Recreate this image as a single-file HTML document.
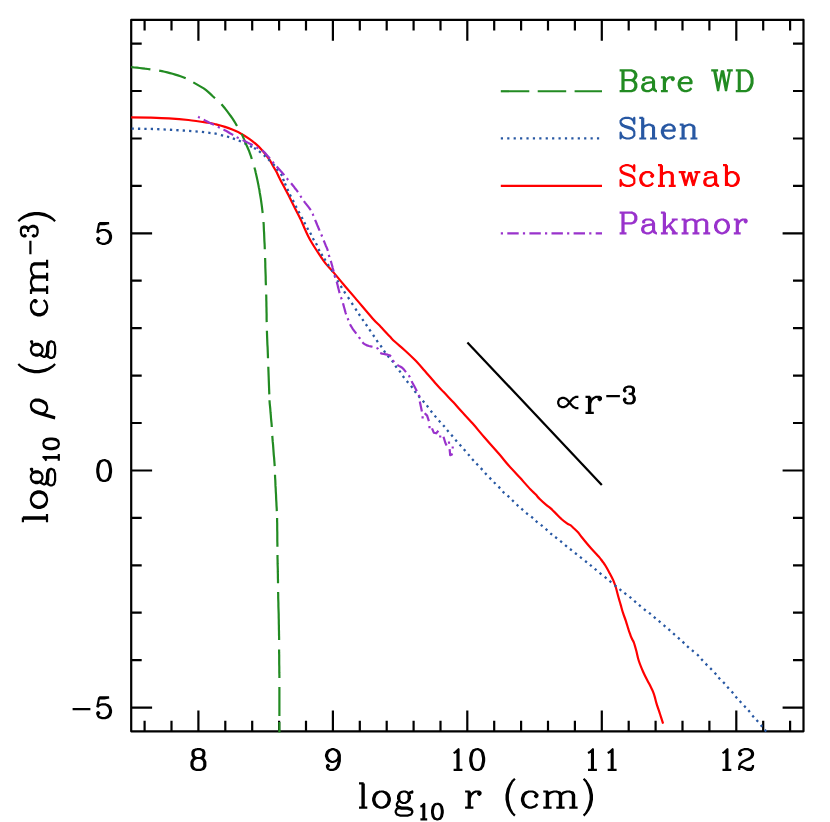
<!DOCTYPE html><html><head><meta charset="utf-8"><title>chart</title><style>html,body{margin:0;padding:0;background:#fff}svg{display:block}</style></head><body><svg width="830" height="822" viewBox="0 0 830 822"><rect width="830" height="822" fill="#fff"/><path d="M131.2 19.9H803.5V731.3H131.2Z" fill="none" stroke="#000" stroke-width="2.2" stroke-linejoin="round" stroke-linecap="round"/><path d="M144.6 731.3v-10.5M144.6 19.9v10.5M171.5 731.3v-10.5M171.5 19.9v10.5M198.4 731.3v-20.9M198.4 19.9v20.9M225.3 731.3v-10.5M225.3 19.9v10.5M252.2 731.3v-10.5M252.2 19.9v10.5M279.1 731.3v-10.5M279.1 19.9v10.5M306 731.3v-10.5M306 19.9v10.5M332.9 731.3v-20.9M332.9 19.9v20.9M359.8 731.3v-10.5M359.8 19.9v10.5M386.7 731.3v-10.5M386.7 19.9v10.5M413.6 731.3v-10.5M413.6 19.9v10.5M440.5 731.3v-10.5M440.5 19.9v10.5M467.3 731.3v-20.9M467.3 19.9v20.9M494.2 731.3v-10.5M494.2 19.9v10.5M521.1 731.3v-10.5M521.1 19.9v10.5M548 731.3v-10.5M548 19.9v10.5M574.9 731.3v-10.5M574.9 19.9v10.5M601.8 731.3v-20.9M601.8 19.9v20.9M628.7 731.3v-10.5M628.7 19.9v10.5M655.6 731.3v-10.5M655.6 19.9v10.5M682.5 731.3v-10.5M682.5 19.9v10.5M709.4 731.3v-10.5M709.4 19.9v10.5M736.3 731.3v-20.9M736.3 19.9v20.9M763.2 731.3v-10.5M763.2 19.9v10.5M790.1 731.3v-10.5M790.1 19.9v10.5M131.2 707.6h20.9M803.5 707.6h-20.9M131.2 660.2h10.5M803.5 660.2h-10.5M131.2 612.7h10.5M803.5 612.7h-10.5M131.2 565.3h10.5M803.5 565.3h-10.5M131.2 517.9h10.5M803.5 517.9h-10.5M131.2 470.5h20.9M803.5 470.5h-20.9M131.2 423h10.5M803.5 423h-10.5M131.2 375.6h10.5M803.5 375.6h-10.5M131.2 328.2h10.5M803.5 328.2h-10.5M131.2 280.7h10.5M803.5 280.7h-10.5M131.2 233.3h20.9M803.5 233.3h-20.9M131.2 185.9h10.5M803.5 185.9h-10.5M131.2 138.5h10.5M803.5 138.5h-10.5M131.2 91h10.5M803.5 91h-10.5M131.2 43.6h10.5M803.5 43.6h-10.5" fill="none" stroke="#000" stroke-width="2.2" stroke-linecap="butt"/><clipPath id="cp"><rect x="131.2" y="19.9" width="672.3" height="712.5"/></clipPath><g clip-path="url(#cp)" fill="none" stroke-linejoin="round" stroke-width="2.2"><path d="M129 117.4C129.4 117.4 128.2 117.4 131.6 117.4C135 117.4 143.3 117.4 149.5 117.6C155.7 117.8 162.4 118 168.9 118.4C175.4 118.8 181.9 119.3 188.4 120C194.9 120.7 203.3 122 207.9 122.7C212.5 123.4 213.2 123.7 216 124.4C218.8 125.1 222.3 126 225 126.9C227.7 127.8 229.6 128.5 232.3 129.6C235 130.7 238.3 132.1 241.1 133.7C243.9 135.2 246.7 137.1 249.3 138.9C251.9 140.7 254.4 142.8 256.6 144.7C258.8 146.6 260.7 148.6 262.3 150.4C263.9 152.2 265.2 153.9 266.5 155.6C267.8 157.3 269.1 158.9 270.2 160.7C271.3 162.5 272.2 164.4 273.2 166.2C274.2 168 275.3 169.7 276.3 171.6C277.3 173.5 278.3 175.7 279.3 177.7C280.3 179.7 281.3 181.8 282.4 183.8C283.5 185.8 284.6 187.9 285.7 189.9C286.8 191.9 287.2 192.7 288.9 195.9C290.5 199.2 293.7 205.6 295.6 209.4C297.5 213.2 298.9 215.9 300.4 218.9C301.8 221.9 303 224.8 304.3 227.7C305.6 230.6 306.9 233.6 308.2 236.2C309.5 238.8 310.6 240.8 312.1 243.3C313.6 245.8 315.2 248.3 317 251C318.8 253.7 321.3 257.5 322.8 259.6C324.3 261.8 324.1 261.7 325.9 263.9C327.7 266.1 330.8 269.2 333.7 272.6C336.6 276 339.8 280.1 343.4 284.3C347 288.5 350.2 292.2 355.1 297.9C360 303.6 368.3 313.5 372.6 318.4C376.9 323.2 378.1 324 380.9 327C383.7 330 387.2 333.8 389.6 336.3C392 338.8 392.5 339.5 395 341.8C397.5 344.1 401.4 347.2 404.7 350.2C407.9 353.1 411.2 356.2 414.5 359.5C417.8 362.8 420.6 366.1 424.2 370.2C427.8 374.2 432.6 380.1 435.9 383.8C439.1 387.5 440.8 389 443.7 392.1C446.6 395.2 450.6 399.3 453.4 402.3C456.2 405.3 457.3 406.8 460.5 410.3C463.7 413.9 468.7 419.1 472.7 423.6C476.7 428.1 479.9 432.2 484.3 437.2C488.7 442.2 494.8 449.1 498.9 453.8C503 458.5 505.1 461.4 508.7 465.5C512.3 469.6 516.6 474.1 520.3 478.1C523.9 482.1 528 486.8 530.6 489.5C533.2 492.2 534.3 493 535.8 494.6C537.3 496.2 537.9 497.2 539.7 499C541.5 500.8 544.7 503.6 546.5 505.1C548.3 506.6 548.9 506.9 550.4 508.2C551.9 509.5 553.5 511.1 555.3 512.9C557.1 514.6 559.1 517 561.1 518.7C563.1 520.5 565.5 522.3 567 523.4C568.5 524.5 569.3 524.4 570.4 525.2C571.5 526 572.5 527 573.8 528.2C575.1 529.4 576.9 531 578.2 532.5C579.5 534 579.9 534.9 581.6 537C583.3 539.1 586.3 542.8 588.4 545.3C590.5 547.8 592.3 549.8 594.2 551.8C596.1 553.8 598.4 556.2 599.6 557.6C600.8 559 600.8 559.2 601.4 560C602 560.8 602.5 561.4 603.2 562.4C603.9 563.4 604.8 564.5 605.8 566.2C606.8 568 608.2 570.5 609.5 572.9C610.8 575.3 612.4 578.2 613.4 580.6C614.4 583 615 584.7 615.8 587.3C616.6 589.9 617.4 593.3 618.2 596.2C619 599.1 619.9 602.1 620.7 604.9C621.5 607.7 622.2 610.5 623.1 613.2C624 615.9 625.1 618.6 626 621.3C626.9 624 627.6 626.9 628.4 629.2C629.1 631.5 629.9 633.6 630.5 635.3C631.1 637 631.8 638.3 632.3 639.5C632.8 640.7 633.1 640.4 633.8 642.3C634.5 644.2 635.5 647.8 636.3 650.8C637.1 653.8 637.6 657 638.7 660.5C639.8 664 641.5 668 643 671.5C644.5 675 646.5 678.7 647.8 681.2C649.1 683.7 649.7 684.8 650.6 686.6C651.5 688.4 652.4 690.1 653.1 691.9C653.8 693.7 654.4 695.5 654.9 697.4C655.4 699.3 655.5 700.3 656.4 703.1C657.2 705.9 658.9 710.6 660 714C661.1 717.4 662.6 722 663.1 723.6" stroke="#ff0000"/><path d="M125.16 128.70L127.46 128.70M131.55 128.70L133.85 128.71M137.94 128.73L140.24 128.75M144.33 128.80L146.63 128.84M150.73 128.93L153.02 129.00M157.12 129.16L159.42 129.25M163.51 129.44L165.81 129.55M169.90 129.76L172.20 129.89M176.29 130.13L178.59 130.26M182.69 130.48L184.98 130.63M189.08 130.94L191.37 131.10M195.47 131.35L197.76 131.53M201.87 131.85L204.15 132.11M208.26 132.71L210.54 133.03M214.47 133.48L216.73 133.92M220.88 135.02L223.12 135.58M226.99 136.48L229.21 137.12M232.82 138.31L234.98 139.09M238.74 140.54L240.86 141.46M244.47 143.19L246.53 144.21M249.97 145.98L252.03 147.02M254.02 147.90L255.98 149.10M258.99 151.20L260.81 152.60M263.84 155.13L265.56 156.67M268.28 159.30L269.92 160.90M273.15 164.03L274.65 165.77M276.70 168.79L278.10 170.61M280.91 173.81L282.09 175.79M283.07 178.93L283.93 181.07M284.94 183.35L285.86 185.45M287.33 188.85L288.27 190.95M289.89 194.57L290.91 196.63M292.78 200.08L293.82 202.12M295.58 205.78L296.62 207.82M298.46 211.29L299.54 213.31M301.56 216.98L302.64 219.02M304.27 222.28L305.33 224.32M307.14 227.70L308.26 229.70M310.15 232.79L311.25 234.81M312.84 238.20L313.96 240.20M315.97 243.18L317.03 245.22M318.48 249.08L319.52 251.12M321.30 253.82L322.50 255.78M324.29 258.72L325.51 260.68M327.67 264.14L328.93 266.06M331.40 269.62L332.60 271.58M334.44 275.09L335.56 277.11M337.32 280.31L338.48 282.29M340.70 285.82L341.90 287.78M344.08 291.33L345.32 293.27M347.97 297.24L349.23 299.16M351.68 302.83L352.92 304.77M355.38 308.73L356.62 310.67M358.76 313.84L360.04 315.76M362.25 319.05L363.55 320.95M365.85 324.25L367.15 326.15M369.35 329.45L370.65 331.35M373.06 334.85L374.34 336.75M376.54 340.16L377.86 342.04M380.44 345.36L381.76 347.24M383.94 350.66L385.26 352.54M387.67 355.81L389.13 357.59M391.90 360.48L393.30 362.32M395.33 365.77L396.67 367.63M399.22 370.57L400.58 372.43M402.82 375.97L404.18 377.83M406.77 381.01L408.23 382.79M410.99 385.89L412.41 387.71M414.61 390.98L415.99 392.82M418.46 395.92L419.94 397.68M422.74 400.73L424.26 402.47M426.79 405.40L428.21 407.20M430.70 410.69L432.10 412.51M434.66 415.62L436.14 417.38M438.83 420.44L440.37 422.16M443.15 425.13L444.65 426.87M447.06 429.92L448.54 431.68M451.26 434.82L452.74 436.58M455.35 439.73L456.85 441.47M459.64 444.54L461.16 446.26M463.84 449.33L465.36 451.07M468.05 454.13L469.55 455.87M472.13 458.94L473.67 460.66M476.41 463.56L477.99 465.24M480.82 468.15L482.38 469.85M485.02 472.95L486.58 474.65M489.50 477.67L491.10 479.33M493.89 482.19L495.51 483.81M498.51 486.66L500.09 488.34M502.67 491.50L504.33 493.10M507.55 495.53L509.25 497.07M512.08 499.99L513.72 501.61M516.66 504.52L518.34 506.08M521.33 508.64L523.07 510.16M526.11 512.88L527.89 514.32M531.22 516.66L532.98 518.14M535.72 520.86L537.48 522.34M540.81 524.77L542.59 526.23M545.64 528.93L547.36 530.47M550.32 533.26L552.08 534.74M555.19 537.00L557.01 538.40M560.21 540.87L561.99 542.33M565.11 545.07L566.89 546.53M570.00 548.98L571.80 550.42M575.00 552.99L576.80 554.41M580.00 556.89L581.80 558.31M585.10 560.98L586.90 562.42M589.91 564.77L591.69 566.23M594.72 568.76L596.48 570.24M599.61 572.87L601.39 574.33M604.71 576.98L606.49 578.42M609.51 580.87L611.29 582.33M614.62 585.07L616.38 586.53M619.50 589.18L621.30 590.62M624.38 592.90L626.22 594.30M629.51 596.77L631.29 598.23M634.23 600.94L635.97 602.46M638.92 604.96L640.68 606.44M643.89 609.10L645.71 610.50M649.00 612.79L650.80 614.21M653.82 616.86L655.58 618.34M658.72 620.86L660.48 622.34M663.63 625.15L665.37 626.65M668.43 629.15L670.17 630.65M673.14 633.33L674.86 634.87M677.94 637.63L679.66 639.17M682.55 641.72L684.25 643.28M687.04 646.03L688.76 647.57M691.92 650.16L693.68 651.64M697.07 654.40L698.73 656.00M701.22 658.95L702.78 660.65M705.59 663.68L707.21 665.32M710.20 668.08L711.80 669.72M714.64 672.83L716.16 674.57M718.52 677.56L720.08 679.24M723.11 681.96L724.69 683.64M727.24 686.84L728.76 688.56M731.65 691.53L733.15 693.27M735.55 696.42L737.05 698.18M739.72 701.06L741.28 702.74M744.12 705.76L745.68 707.44M748.36 710.32L749.84 712.08M752.35 715.53L753.85 717.27M756.53 719.94L758.07 721.66M760.76 724.92L762.24 726.68M764.76 729.72L766.24 731.48" stroke="#2858a3" stroke-width="2.3"/><path d="M129 67L131.7 67.2 134.4 67.5 137 67.7 139.7 68 142.4 68.3 145.1 68.7 147.7 69 150.4 69.4M159.2 70.6L161.9 71.1 164.6 71.7 167.3 72.4 170 73.1 172.6 73.8 175.3 74.6 177.9 75.4 180.5 76.3 183.2 77.2 185.7 78.3M193.3 82.4L195.9 83.9 198.5 85.4 201.1 86.9 203.7 88.4 206.1 90.2 208.4 92.1 210.6 94.1 212.8 96.2 215 98.2M221.5 104.2L223.4 106.5 225.3 108.8 227.1 111.2 228.9 113.6 230.7 116 232.4 118.4 234 120.9 235.6 123.5 237 126.1M241.7 133.9L242.8 136.4 243.9 138.9 244.9 141.4 245.9 143.9 247 146.3 248.1 148.8 249.2 151.3 250.1 153.9 251 156.4 251.8 159M254.4 167.5L255.2 170.3 255.8 173.1 256.5 176 257.1 178.8 257.7 181.6 258.3 184.4 258.8 187.3 259.4 190.1 259.8 193 260.3 195.8 260.8 198.7 261.2 201.5 261.6 204.4 262 207.3 262.3 210.1 262.7 213M263.5 222L263.7 224.7 263.8 227.4 263.9 230.2 264.1 232.9 264.2 235.6 264.3 238.3 264.4 241 264.6 243.8 264.7 246.5 264.8 249.2M265.1 258L265.2 260.7 265.3 263.5 265.3 266.2 265.4 268.9 265.5 271.7 265.6 274.4 265.7 277.1 265.7 279.8 265.8 282.6 265.9 285.3M266.2 294.5L266.3 297.3 266.3 300 266.4 302.8 266.4 305.5 266.5 308.3 266.5 311.1 266.6 313.8 266.6 316.6 266.6 319.3 266.7 322.1M266.9 330.7L267 333.5 267.1 336.2 267.2 339 267.3 341.7 267.4 344.5 267.6 347.2 267.7 350 267.8 352.7 267.9 355.4 268 358.2M268.3 366.8L268.4 369.6 268.5 372.3 268.6 375.1 268.7 377.8 268.8 380.6 268.9 383.4 269 386.1 269.1 388.9 269.2 391.6 269.3 394.4M269.5 400.3L269.7 403.3 270 406.2 270.3 409.2 270.5 412.2 270.8 415.1 271 418.1 271.3 421.1 271.6 424 271.8 427M272.3 435.9L272.5 438.6 272.7 441.4 273 444.1 273.2 446.9 273.4 449.6 273.6 452.4 273.8 455.1 274.1 457.9 274.3 460.6 274.5 463.4 274.7 466.1M275 474.7L275.1 477.5 275.3 480.3 275.4 483.1 275.5 485.9 275.7 488.7 275.8 491.5 276 494.3 276.1 497.1 276.2 499.9 276.4 502.7 276.5 505.5 276.7 508.3 276.8 511.1M277.1 518.1L277.1 521 277.2 523.8 277.2 526.7 277.2 529.5 277.3 532.4 277.3 535.3 277.3 538.1 277.3 541 277.4 543.8 277.4 546.7M277.5 554.9L277.5 557.7 277.6 560.6 277.6 563.4 277.7 566.2 277.8 569 277.8 571.9 277.9 574.7 277.9 577.5 278 580.4 278 583.2M278.1 592L278.2 594.8 278.2 597.7 278.3 600.5 278.4 603.3 278.4 606.1 278.5 609 278.6 611.8 278.7 614.6 278.7 617.5 278.8 620.3 278.8 623.1 278.9 626 278.9 628.8 279 631.6 279 634.4 279.1 637.3 279.1 640.1M279.1 649.5L279.1 652.4 279.2 655.2 279.2 658.1 279.2 660.9 279.2 663.8 279.3 666.7 279.3 669.5 279.3 672.4 279.4 675.2 279.4 678.1M279.4 686.9L279.4 689.8 279.4 692.7 279.4 695.6 279.4 698.5 279.4 701.5 279.4 704.4 279.4 707.3 279.4 710.2 279.4 713.1 279.4 716M279.4 721.9L279.4 724.7 279.4 727.5 279.4 730.2 279.4 733" stroke="#228b22"/><path d="M198.1 116.8L199 117.3 199.8 117.7M203.7 119.7L205.4 120.6 207.1 121.5 208.8 122.4 210.5 123.2 212.3 124 214 124.9M217.8 126.7L218.5 127 219.1 127.4 219.8 127.7M223.5 129.6L225.2 130.4 226.8 131.3 228.4 132.2 230 133.2 231.6 134.1 233.2 135M236.7 137.1L237.4 137.5 238 137.8 238.7 138.1M242.6 140L244.3 140.9 246 141.7 247.7 142.6 249.4 143.5 251.1 144.3 252.7 145.2M256.4 147.3L257.1 147.6 257.7 148 258.4 148.2M262.2 150.2L263.6 151.5 264.9 152.8 266.1 154.2 267.4 155.7 268.6 157.1 269.9 158.5M272.5 161.7L273 162.3 273.4 162.9 273.9 163.4M276.7 166.6L278 168 279.3 169.4 280.5 170.8 281.8 172.2 283 173.6 284.3 175.1M286.8 178.3L287.3 178.9 287.7 179.5 288.2 180M291.1 183.2L292.3 184.7 293.5 186.2 294.6 187.7 295.8 189.2 296.9 190.7 298 192.2M300.3 195.8L300.7 196.4 301.1 197 301.5 197.6M303.9 201.1L305 202.6 306.2 204.1 307.4 205.6 308.6 207.1 309.7 208.6 310.8 210.1M312.7 213.8L313 214.5 313.2 215.1 313.5 215.8M315.1 219.9L315.9 221.7 316.6 223.5 317.3 225.2 318.1 227 318.8 228.8 319.6 230.6M321.3 234.5L321.6 235.2 321.8 235.8 322.1 236.5M323.7 240.5L324.4 242.2 325.1 243.9 325.8 245.7 326.6 247.4 327.3 249.1 327.9 250.9M328.8 254.9L329 255.6 329.2 256.4 329.4 257M330.8 260.9L331.3 262.7 331.8 264.5 332.3 266.2 332.7 268 333.2 269.8 333.7 271.6M334.7 275.4L334.9 276.1 335.1 276.9 335.3 277.6M336.7 281.8L337.2 283.6 337.7 285.5 338.1 287.4 338.6 289.3 339.1 291.2 339.6 293.1M340.9 297.2L341.2 297.9 341.4 298.5 341.7 299.2M343 303.3L343.5 305.1 344 307 344.5 308.8 345 310.6 345.5 312.5 346.1 314.3M347.6 318.2L347.9 318.9 348.1 319.5 348.4 320.2M350 324.2L350.9 325.9 351.9 327.5 352.9 329.1 354 330.6 355.2 332.2 356.3 333.7M358.9 337L359.3 337.6 359.7 338.2 360.1 338.8M362.4 342.3L363.8 343.6 365.4 344.6 367.1 345.4 368.9 346 370.7 346.4 372.5 346.8M376.5 347.9L377.2 348.2 377.8 348.6 378.2 349.2M380.2 353L382 353.6 383.9 353.9 385.8 354.3 387.7 354.7 389.5 355.2 391 356.4M392.9 360.2L393.3 360.8 393.7 361.4 394.2 362M397.3 364.9L398.9 365.9 400.6 366.8 402.2 367.8 403.6 369.1 404.8 370.6 406 372.1M408.7 375.3L409.1 375.9 409.5 376.5 409.8 377.2M411.6 381.1L412.4 382.8 413.3 384.4 414.2 386.1 415.1 387.8 416 389.5 416.8 391.2M418.7 394.9L419 395.6 419.4 396.2 419.7 396.9M419.8 401.6L421.9 411.4M424.7 413.2L427.1 415.6 428.9 421.1M432 428.4L433.8 432.7 436.2 433.3 438.4 430.8M443.5 436.7L445.4 443 446.6 445.4M449.6 449.1L450.2 455.2 452.7 453.9M421.5 417.4h2.2M428.4 427.2h2.2M439.1 436.5h2.2M447.9 442.7h2.2M451.6 447.5h2.2" stroke="#9932cc"/><path d="M467.4 342.4L601.8 485" stroke="#000"/></g><path d="M196.5 749.2L193.5 750.2 192.5 752.1 192.5 755.1 193.5 757.1 196.5 758 200.4 758 203.4 757.1 204.3 755.1 204.3 752.1 203.4 750.2 200.4 749.2 196.5 749.2M196.5 749.2L194.5 750.2 193.5 752.1 193.5 755.1 194.5 757.1 196.5 758M200.4 758L202.4 757.1 203.4 755.1 203.4 752.1 202.4 750.2 200.4 749.2M196.5 758L193.5 759 192.5 760 191.5 762 191.5 765.9 192.5 767.9 193.5 768.9 196.5 769.9 200.4 769.9 203.4 768.9 204.3 767.9 205.3 765.9 205.3 762 204.3 760 203.4 759 200.4 758M196.5 758L194.5 759 193.5 760 192.5 762 192.5 765.9 193.5 767.9 194.5 768.9 196.5 769.9M200.4 769.9L202.4 768.9 203.4 767.9 204.3 765.9 204.3 762 203.4 760 202.4 759 200.4 758" fill="none" stroke="#000" stroke-width="2.2" stroke-linecap="butt" stroke-linejoin="round"/><path d="M338.8 756.1L337.8 759 335.8 761 332.9 762 331.9 762 328.9 761 327 759 326 756.1 326 755.1 327 752.1 328.9 750.2 331.9 749.2 333.9 749.2 336.8 750.2 338.8 752.1 339.8 755.1 339.8 761 338.8 764.9 337.8 766.9 335.8 768.9 332.9 769.9 329.9 769.9 328 768.9 327 766.9 327 765.9 328 764.9 328.9 765.9 328 766.9M331.9 762L329.9 761 328 759 327 756.1 327 755.1 328 752.1 329.9 750.2 331.9 749.2M333.9 749.2L335.8 750.2 337.8 752.1 338.8 755.1 338.8 761 337.8 764.9 336.8 766.9 334.9 768.9 332.9 769.9" fill="none" stroke="#000" stroke-width="2.2" stroke-linecap="butt" stroke-linejoin="round"/><path d="M453.6 753.1L455.5 752.1 458.5 749.2 458.5 769.9M457.5 750.2L457.5 769.9M453.6 769.9L462.4 769.9M476.2 749.2L473.3 750.2 471.3 753.1 470.3 758 470.3 761 471.3 765.9 473.3 768.9 476.2 769.9 478.2 769.9 481.1 768.9 483.1 765.9 484.1 761 484.1 758 483.1 753.1 481.1 750.2 478.2 749.2 476.2 749.2M476.2 749.2L474.2 750.2 473.3 751.1 472.3 753.1 471.3 758 471.3 761 472.3 765.9 473.3 767.9 474.2 768.9 476.2 769.9M478.2 769.9L480.2 768.9 481.1 767.9 482.1 765.9 483.1 761 483.1 758 482.1 753.1 481.1 751.1 480.2 750.2 478.2 749.2" fill="none" stroke="#000" stroke-width="2.2" stroke-linecap="butt" stroke-linejoin="round"/><path d="M588 753.1L590 752.1 592.9 749.2 592.9 769.9M592 750.2L592 769.9M588 769.9L596.9 769.9M607.7 753.1L609.7 752.1 612.6 749.2 612.6 769.9M611.7 750.2L611.7 769.9M607.7 769.9L616.6 769.9" fill="none" stroke="#000" stroke-width="2.2" stroke-linecap="butt" stroke-linejoin="round"/><path d="M722.5 753.1L724.4 752.1 727.4 749.2 727.4 769.9M726.4 750.2L726.4 769.9M722.5 769.9L731.3 769.9M740.2 753.1L741.2 754.1 740.2 755.1 739.2 754.1 739.2 753.1 740.2 751.1 741.2 750.2 744.1 749.2 748.1 749.2 751 750.2 752 751.1 753 753.1 753 755.1 752 757.1 749.1 759 744.1 761 742.2 762 740.2 764 739.2 766.9 739.2 769.9M748.1 749.2L750.1 750.2 751 751.1 752 753.1 752 755.1 751 757.1 748.1 759 744.1 761M739.2 767.9L740.2 766.9 742.2 766.9 747.1 768.9 750.1 768.9 752 767.9 753 766.9M742.2 766.9L747.1 769.9 751 769.9 752 768.9 753 766.9 753 764.9" fill="none" stroke="#000" stroke-width="2.2" stroke-linecap="butt" stroke-linejoin="round"/><path d="M99.2 223.1L97.3 232.9M97.3 232.9L99.2 231 102.2 230 105.1 230 108.1 231 110.1 232.9 111 235.9 111 237.9 110.1 240.8 108.1 242.8 105.1 243.8 102.2 243.8 99.2 242.8 98.2 241.8 97.3 239.8 97.3 238.9 98.2 237.9 99.2 238.9 98.2 239.8M105.1 230L107.1 231 109.1 232.9 110.1 235.9 110.1 237.9 109.1 240.8 107.1 242.8 105.1 243.8M99.2 223.1L109.1 223.1M99.2 224.1L104.2 224.1 109.1 223.1" fill="none" stroke="#000" stroke-width="2.2" stroke-linecap="butt" stroke-linejoin="round"/><path d="M103.2 460.2L100.2 461.2 98.2 464.2 97.3 469.1 97.3 472.1 98.2 477 100.2 479.9 103.2 480.9 105.1 480.9 108.1 479.9 110.1 477 111 472.1 111 469.1 110.1 464.2 108.1 461.2 105.1 460.2 103.2 460.2M103.2 460.2L101.2 461.2 100.2 462.2 99.2 464.2 98.2 469.1 98.2 472.1 99.2 477 100.2 478.9 101.2 479.9 103.2 480.9M105.1 480.9L107.1 479.9 108.1 478.9 109.1 477 110.1 472.1 110.1 469.1 109.1 464.2 108.1 462.2 107.1 461.2 105.1 460.2" fill="none" stroke="#000" stroke-width="2.2" stroke-linecap="butt" stroke-linejoin="round"/><path d="M72.6 709.2L90.4 709.2M99.2 697.4L97.3 707.2M97.3 707.2L99.2 705.2 102.2 704.3 105.1 704.3 108.1 705.2 110.1 707.2 111 710.2 111 712.1 110.1 715.1 108.1 717.1 105.1 718.1 102.2 718.1 99.2 717.1 98.2 716.1 97.3 714.1 97.3 713.1 98.2 712.1 99.2 713.1 98.2 714.1M105.1 704.3L107.1 705.2 109.1 707.2 110.1 710.2 110.1 712.1 109.1 715.1 107.1 717.1 105.1 718.1M99.2 697.4L109.1 697.4M99.2 698.4L104.2 698.4 109.1 697.4" fill="none" stroke="#000" stroke-width="2.2" stroke-linecap="butt" stroke-linejoin="round"/><path d="M362.5 783.4L362.5 807.6M363.7 783.4L363.7 807.6M359 783.4L363.7 783.4M359 807.6L367.3 807.6M380.3 791.5L376.7 792.6 374.4 794.9 373.2 798.4 373.2 800.7 374.4 804.1 376.7 806.4 380.3 807.6 382.7 807.6 386.2 806.4 388.6 804.1 389.8 800.7 389.8 798.4 388.6 794.9 386.2 792.6 382.7 791.5 380.3 791.5M380.3 791.5L377.9 792.6 375.6 794.9 374.4 798.4 374.4 800.7 375.6 804.1 377.9 806.4 380.3 807.6M382.7 807.6L385 806.4 387.4 804.1 388.6 800.7 388.6 798.4 387.4 794.9 385 792.6 382.7 791.5M402.8 791.5L400.4 792.6 399.3 793.8 398.1 796.1 398.1 798.4 399.3 800.7 400.4 801.8 402.8 803 405.2 803 407.5 801.8 408.7 800.7 409.9 798.4 409.9 796.1 408.7 793.8 407.5 792.6 405.2 791.5 402.8 791.5M400.4 792.6L399.3 794.9 399.3 799.5 400.4 801.8M407.5 801.8L408.7 799.5 408.7 794.9 407.5 792.6M408.7 793.8L409.9 792.6 412.3 791.5 412.3 792.6 409.9 792.6M399.3 800.7L398.1 801.8 396.9 804.1 396.9 805.2 398.1 807.6 401.6 808.7 407.5 808.7 411.1 809.9 412.3 811M396.9 805.2L398.1 806.4 401.6 807.6 407.5 807.6 411.1 808.7 412.3 811 412.3 812.2 411.1 814.5 407.5 815.6 400.4 815.6 396.9 814.5 395.7 812.2 395.7 811 396.9 808.7 400.4 807.6M420.4 806.8L421.9 806.1 424.2 803.9 424.2 819.3M423.4 804.6L423.4 819.3M420.4 819.3L427.2 819.3M436.6 803.9L434.4 804.6 432.8 806.8 432.1 810.5 432.1 812.7 432.8 816.4 434.4 818.6 436.6 819.3 438.2 819.3 440.4 818.6 441.9 816.4 442.7 812.7 442.7 810.5 441.9 806.8 440.4 804.6 438.2 803.9 436.6 803.9M436.6 803.9L435.1 804.6 434.4 805.4 433.6 806.8 432.8 810.5 432.8 812.7 433.6 816.4 434.4 817.9 435.1 818.6 436.6 819.3M438.2 819.3L439.7 818.6 440.4 817.9 441.2 816.4 441.9 812.7 441.9 810.5 441.2 806.8 440.4 805.4 439.7 804.6 438.2 803.9M468.7 791.5L468.7 807.6M469.8 791.5L469.8 807.6M469.8 798.4L471 794.9 473.4 792.6 475.8 791.5 479.3 791.5 480.5 792.6 480.5 793.8 479.3 794.9 478.1 793.8 479.3 792.6M465.1 791.5L469.8 791.5M465.1 807.6L473.4 807.6M514.9 778.8L512.5 781.1 510.1 784.6 507.8 789.2 506.6 794.9 506.6 799.5 507.8 805.2 510.1 809.9 512.5 813.3 514.9 815.6M512.5 781.1L510.1 785.7 508.9 789.2 507.8 794.9 507.8 799.5 508.9 805.2 510.1 808.7 512.5 813.3M536.2 794.9L535 796.1 536.2 797.2 537.4 796.1 537.4 794.9 535 792.6 532.6 791.5 529.1 791.5 525.5 792.6 523.2 794.9 522 798.4 522 800.7 523.2 804.1 525.5 806.4 529.1 807.6 531.4 807.6 535 806.4 537.4 804.1M529.1 791.5L526.7 792.6 524.3 794.9 523.2 798.4 523.2 800.7 524.3 804.1 526.7 806.4 529.1 807.6M546.8 791.5L546.8 807.6M548 791.5L548 807.6M548 794.9L550.4 792.6 553.9 791.5 556.3 791.5 559.9 792.6 561.1 794.9 561.1 807.6M556.3 791.5L558.7 792.6 559.9 794.9 559.9 807.6M561.1 794.9L563.4 792.6 567 791.5 569.3 791.5 572.9 792.6 574.1 794.9 574.1 807.6M569.3 791.5L571.7 792.6 572.9 794.9 572.9 807.6M543.3 791.5L548 791.5M543.3 807.6L551.6 807.6M556.3 807.6L564.6 807.6M569.3 807.6L577.6 807.6M583.6 778.8L585.9 781.1 588.3 784.6 590.7 789.2 591.9 794.9 591.9 799.5 590.7 805.2 588.3 809.9 585.9 813.3 583.6 815.6M585.9 781.1L588.3 785.7 589.5 789.2 590.7 794.9 590.7 799.5 589.5 805.2 588.3 808.7 585.9 813.3" fill="none" stroke="#000" stroke-width="2.2" stroke-linecap="butt" stroke-linejoin="round"/><path d="M22.9 518.6L47 518.6M22.9 517.4L47 517.4M22.9 522.2L22.9 517.4M47 522.2L47 513.9M30.9 500.9L32.1 504.4 34.4 506.8 37.8 508 40.1 508 43.6 506.8 45.9 504.4 47 500.9 47 498.5 45.9 494.9 43.6 492.6 40.1 491.4 37.8 491.4 34.4 492.6 32.1 494.9 30.9 498.5 30.9 500.9M30.9 500.9L32.1 503.2 34.4 505.6 37.8 506.8 40.1 506.8 43.6 505.6 45.9 503.2 47 500.9M47 498.5L45.9 496.1 43.6 493.8 40.1 492.6 37.8 492.6 34.4 493.8 32.1 496.1 30.9 498.5M30.9 478.4L32.1 480.7 33.2 481.9 35.5 483.1 37.8 483.1 40.1 481.9 41.3 480.7 42.4 478.4 42.4 476 41.3 473.6 40.1 472.4 37.8 471.3 35.5 471.3 33.2 472.4 32.1 473.6 30.9 476 30.9 478.4M32.1 480.7L34.4 481.9 39 481.9 41.3 480.7M41.3 473.6L39 472.4 34.4 472.4 32.1 473.6M33.2 472.4L32.1 471.3 30.9 468.9 32.1 468.9 32.1 471.3M40.1 481.9L41.3 483.1 43.6 484.3 44.7 484.3 47 483.1 48.2 479.5 48.2 473.6 49.3 470.1 50.5 468.9M44.7 484.3L45.9 483.1 47 479.5 47 473.6 48.2 470.1 50.5 468.9 51.6 468.9 53.9 470.1 55.1 473.6 55.1 480.7 53.9 484.3 51.6 485.5 50.5 485.5 48.2 484.3 47 480.7M46.3 460.8L45.6 459.3 43.4 457 58.8 457M44.1 457.7L58.8 457.7M58.8 460.8L58.8 454M43.4 444.5L44.1 446.8 46.3 448.3 50 449.1 52.2 449.1 55.9 448.3 58.1 446.8 58.8 444.5 58.8 443 58.1 440.7 55.9 439.2 52.2 438.5 50 438.5 46.3 439.2 44.1 440.7 43.4 443 43.4 444.5M43.4 444.5L44.1 446 44.9 446.8 46.3 447.6 50 448.3 52.2 448.3 55.9 447.6 57.4 446.8 58.1 446 58.8 444.5M58.8 443L58.1 441.5 57.4 440.7 55.9 440 52.2 439.2 50 439.2 46.3 440 44.9 440.7 44.1 441.5 43.4 443M41.3 413.7L44.8 412.5 45.9 411.3 47.1 408.9 47.1 406.6 45.9 403 42.5 400.7 39 399.5 35.6 399.5 33.2 400.7 32.1 401.8 31 404.2 31 406.6 32.1 410.1 35.6 412.5 39 413.7 55.1 418.4M47.1 406.6L45.9 404.2 42.5 401.8 39 400.7 34.4 400.7 32.1 401.8M31 406.6L32.1 408.9 35.6 411.3 39 412.5 55.1 417.2M18.3 363.9L20.6 366.3 24.1 368.7 28.7 371 34.4 372.2 39 372.2 44.8 371 49.4 368.7 52.8 366.3 55.1 363.9M20.6 366.3L25.2 368.7 28.7 369.9 34.4 371 39 371 44.8 369.9 48.2 368.7 52.8 366.3M31 350.9L32.1 353.3 33.2 354.5 35.6 355.6 37.9 355.6 40.2 354.5 41.3 353.3 42.5 350.9 42.5 348.5 41.3 346.2 40.2 345 37.9 343.8 35.6 343.8 33.2 345 32.1 346.2 31 348.5 31 350.9M32.1 353.3L34.4 354.5 39 354.5 41.3 353.3M41.3 346.2L39 345 34.4 345 32.1 346.2M33.2 345L32.1 343.8 31 341.4 32.1 341.4 32.1 343.8M40.2 354.5L41.3 355.6 43.6 356.8 44.8 356.8 47.1 355.6 48.2 352.1 48.2 346.2 49.4 342.6 50.5 341.4M44.8 356.8L45.9 355.6 47.1 352.1 47.1 346.2 48.2 342.6 50.5 341.4 51.7 341.4 54 342.6 55.1 346.2 55.1 353.3 54 356.8 51.7 358 50.5 358 48.2 356.8 47.1 353.3M34.4 301.2L35.6 302.3 36.7 301.2 35.6 300 34.4 300 32.1 302.3 31 304.7 31 308.3 32.1 311.8 34.4 314.2 37.9 315.4 40.2 315.4 43.6 314.2 45.9 311.8 47.1 308.3 47.1 305.9 45.9 302.3 43.6 300M31 308.3L32.1 310.6 34.4 313 37.9 314.2 40.2 314.2 43.6 313 45.9 310.6 47.1 308.3M31 290.5L47.1 290.5M31 289.3L47.1 289.3M34.4 289.3L32.1 286.9 31 283.4 31 281 32.1 277.5 34.4 276.3 47.1 276.3M31 281L32.1 278.7 34.4 277.5 47.1 277.5M34.4 276.3L32.1 273.9 31 270.4 31 268 32.1 264.4 34.4 263.3 47.1 263.3M31 268L32.1 265.6 34.4 264.4 47.1 264.4M31 294.1L31 289.3M47.1 294.1L47.1 285.8M47.1 281L47.1 272.7M47.1 268L47.1 259.7M30.4 254.3L30.4 240.7M24.1 235.8L24.9 235 25.7 235.8 24.9 236.5 24.1 236.5 22.5 235.8 21.7 235 20.9 232.7 20.9 229.7 21.7 227.4 23.3 226.7 25.7 226.7 27.3 227.4 28.1 229.7 28.1 232M20.9 229.7L21.7 228.2 23.3 227.4 25.7 227.4 27.3 228.2 28.1 229.7M28.1 229.7L28.8 228.2 30.4 226.7 32 225.9 34.4 225.9 36 226.7 36.8 227.4 37.6 229.7 37.6 232.7 36.8 235 36 235.8 34.4 236.5 33.6 236.5 32.8 235.8 33.6 235 34.4 235.8M29.6 227.4L32 226.7 34.4 226.7 36 227.4 36.8 228.2 37.6 229.7M18.3 221.3L20.6 218.9 24.1 216.5 28.7 214.2 34.4 213 39 213 44.8 214.2 49.4 216.5 52.8 218.9 55.1 221.3M20.6 218.9L25.2 216.5 28.7 215.4 34.4 214.2 39 214.2 44.8 215.4 48.2 216.5 52.8 218.9" fill="none" stroke="#000" stroke-width="2.2" stroke-linecap="butt" stroke-linejoin="round"/><path d="M622.5 70.4L622.5 91.1M623.5 70.4L623.5 91.1M619.6 70.4L631.4 70.4 634.3 71.4 635.3 72.4 636.3 74.3 636.3 76.3 635.3 78.3 634.3 79.2 631.4 80.2M631.4 70.4L633.4 71.4 634.3 72.4 635.3 74.3 635.3 76.3 634.3 78.3 633.4 79.2 631.4 80.2M623.5 80.2L631.4 80.2 634.3 81.2 635.3 82.2 636.3 84.2 636.3 87.1 635.3 89.1 634.3 90.1 631.4 91.1 619.6 91.1M631.4 80.2L633.4 81.2 634.3 82.2 635.3 84.2 635.3 87.1 634.3 89.1 633.4 90.1 631.4 91.1M644.2 79.2L644.2 80.2 643.2 80.2 643.2 79.2 644.2 78.3 646.2 77.3 650.1 77.3 652.1 78.3 653.1 79.2 654 81.2 654 88.1 655 90.1 656 91.1M653.1 79.2L653.1 88.1 654 90.1 656 91.1 657 91.1M653.1 81.2L652.1 82.2 646.2 83.2 643.2 84.2 642.2 86.1 642.2 88.1 643.2 90.1 646.2 91.1 649.1 91.1 651.1 90.1 653.1 88.1M646.2 83.2L644.2 84.2 643.2 86.1 643.2 88.1 644.2 90.1 646.2 91.1M663.9 77.3L663.9 91.1M664.9 77.3L664.9 91.1M664.9 83.2L665.9 80.2 667.8 78.3 669.8 77.3 672.8 77.3 673.7 78.3 673.7 79.2 672.8 80.2 671.8 79.2 672.8 78.3M660.9 77.3L664.9 77.3M660.9 91.1L667.8 91.1M679.7 83.2L691.5 83.2 691.5 81.2 690.5 79.2 689.5 78.3 687.5 77.3 684.6 77.3 681.6 78.3 679.7 80.2 678.7 83.2 678.7 85.2 679.7 88.1 681.6 90.1 684.6 91.1 686.6 91.1 689.5 90.1 691.5 88.1M690.5 83.2L690.5 80.2 689.5 78.3M684.6 77.3L682.6 78.3 680.6 80.2 679.7 83.2 679.7 85.2 680.6 88.1 682.6 90.1 684.6 91.1M714.1 70.4L718.1 91.1M715.1 70.4L718.1 86.1M722 70.4L718.1 91.1M722 70.4L726 91.1M723 70.4L726 86.1M729.9 70.4L726 91.1M711.2 70.4L718.1 70.4M726.9 70.4L732.8 70.4M738.8 70.4L738.8 91.1M739.7 70.4L739.7 91.1M735.8 70.4L745.7 70.4 748.6 71.4 750.6 73.3 751.6 75.3 752.5 78.3 752.5 83.2 751.6 86.1 750.6 88.1 748.6 90.1 745.7 91.1 735.8 91.1M745.7 70.4L747.6 71.4 749.6 73.3 750.6 75.3 751.6 78.3 751.6 83.2 750.6 86.1 749.6 88.1 747.6 90.1 745.7 91.1" fill="none" stroke="#228b22" stroke-width="2.2" stroke-linecap="butt" stroke-linejoin="round"/><path d="M633.4 120.7L634.3 117.8 634.3 123.7 633.4 120.7 631.4 118.8 628.4 117.8 625.5 117.8 622.5 118.8 620.6 120.7 620.6 122.7 621.5 124.7 622.5 125.7 624.5 126.6 630.4 128.6 632.4 129.6 634.3 131.6M620.6 122.7L622.5 124.7 624.5 125.7 630.4 127.6 632.4 128.6 633.4 129.6 634.3 131.6 634.3 135.5 632.4 137.5 629.4 138.5 626.5 138.5 623.5 137.5 621.5 135.5 620.6 132.6 620.6 138.5 621.5 135.5M642.2 117.8L642.2 138.5M643.2 117.8L643.2 138.5M643.2 127.6L645.2 125.7 648.1 124.7 650.1 124.7 653.1 125.7 654 127.6 654 138.5M650.1 124.7L652.1 125.7 653.1 127.6 653.1 138.5M639.3 117.8L643.2 117.8M639.3 138.5L646.2 138.5M650.1 138.5L657 138.5M662.9 130.6L674.7 130.6 674.7 128.6 673.7 126.6 672.8 125.7 670.8 124.7 667.8 124.7 664.9 125.7 662.9 127.6 661.9 130.6 661.9 132.6 662.9 135.5 664.9 137.5 667.8 138.5 669.8 138.5 672.8 137.5 674.7 135.5M673.7 130.6L673.7 127.6 672.8 125.7M667.8 124.7L665.9 125.7 663.9 127.6 662.9 130.6 662.9 132.6 663.9 135.5 665.9 137.5 667.8 138.5M682.6 124.7L682.6 138.5M683.6 124.7L683.6 138.5M683.6 127.6L685.6 125.7 688.5 124.7 690.5 124.7 693.4 125.7 694.4 127.6 694.4 138.5M690.5 124.7L692.5 125.7 693.4 127.6 693.4 138.5M679.7 124.7L683.6 124.7M679.7 138.5L686.6 138.5M690.5 138.5L697.4 138.5" fill="none" stroke="#2858a3" stroke-width="2.2" stroke-linecap="butt" stroke-linejoin="round"/><path d="M633.4 168.1L634.3 165.2 634.3 171.1 633.4 168.1 631.4 166.2 628.4 165.2 625.5 165.2 622.5 166.2 620.6 168.1 620.6 170.1 621.5 172.1 622.5 173.1 624.5 174 630.4 176 632.4 177 634.3 179M620.6 170.1L622.5 172.1 624.5 173.1 630.4 175 632.4 176 633.4 177 634.3 179 634.3 182.9 632.4 184.9 629.4 185.9 626.5 185.9 623.5 184.9 621.5 182.9 620.6 180 620.6 185.9 621.5 182.9M652.1 175L651.1 176 652.1 177 653.1 176 653.1 175 651.1 173.1 649.1 172.1 646.2 172.1 643.2 173.1 641.2 175 640.3 178 640.3 180 641.2 182.9 643.2 184.9 646.2 185.9 648.1 185.9 651.1 184.9 653.1 182.9M646.2 172.1L644.2 173.1 642.2 175 641.2 178 641.2 180 642.2 182.9 644.2 184.9 646.2 185.9M660.9 165.2L660.9 185.9M661.9 165.2L661.9 185.9M661.9 175L663.9 173.1 666.9 172.1 668.8 172.1 671.8 173.1 672.8 175 672.8 185.9M668.8 172.1L670.8 173.1 671.8 175 671.8 185.9M658 165.2L661.9 165.2M658 185.9L664.9 185.9M668.8 185.9L675.7 185.9M681.6 172.1L685.6 185.9M682.6 172.1L685.6 182.9M689.5 172.1L685.6 185.9M689.5 172.1L693.4 185.9M690.5 172.1L693.4 182.9M697.4 172.1L693.4 185.9M678.7 172.1L685.6 172.1M694.4 172.1L700.3 172.1M706.2 174L706.2 175 705.3 175 705.3 174 706.2 173.1 708.2 172.1 712.2 172.1 714.1 173.1 715.1 174 716.1 176 716.1 182.9 717.1 184.9 718.1 185.9M715.1 174L715.1 182.9 716.1 184.9 718.1 185.9 719.1 185.9M715.1 176L714.1 177 708.2 178 705.3 179 704.3 180.9 704.3 182.9 705.3 184.9 708.2 185.9 711.2 185.9 713.1 184.9 715.1 182.9M708.2 178L706.2 179 705.3 180.9 705.3 182.9 706.2 184.9 708.2 185.9M726 165.2L726 185.9M726.9 165.2L726.9 185.9M726.9 175L728.9 173.1 730.9 172.1 732.8 172.1 735.8 173.1 737.8 175 738.8 178 738.8 180 737.8 182.9 735.8 184.9 732.8 185.9 730.9 185.9 728.9 184.9 726.9 182.9M732.8 172.1L734.8 173.1 736.8 175 737.8 178 737.8 180 736.8 182.9 734.8 184.9 732.8 185.9M723 165.2L726.9 165.2" fill="none" stroke="#ff0000" stroke-width="2.2" stroke-linecap="butt" stroke-linejoin="round"/><path d="M622.5 212.6L622.5 233.3M623.5 212.6L623.5 233.3M619.6 212.6L631.4 212.6 634.3 213.6 635.3 214.6 636.3 216.5 636.3 219.5 635.3 221.4 634.3 222.4 631.4 223.4 623.5 223.4M631.4 212.6L633.4 213.6 634.3 214.6 635.3 216.5 635.3 219.5 634.3 221.4 633.4 222.4 631.4 223.4M619.6 233.3L626.5 233.3M644.2 221.4L644.2 222.4 643.2 222.4 643.2 221.4 644.2 220.5 646.2 219.5 650.1 219.5 652.1 220.5 653.1 221.4 654 223.4 654 230.3 655 232.3 656 233.3M653.1 221.4L653.1 230.3 654 232.3 656 233.3 657 233.3M653.1 223.4L652.1 224.4 646.2 225.4 643.2 226.4 642.2 228.3 642.2 230.3 643.2 232.3 646.2 233.3 649.1 233.3 651.1 232.3 653.1 230.3M646.2 225.4L644.2 226.4 643.2 228.3 643.2 230.3 644.2 232.3 646.2 233.3M663.9 212.6L663.9 233.3M664.9 212.6L664.9 233.3M674.7 219.5L664.9 229.3M669.8 225.4L675.7 233.3M668.8 225.4L674.7 233.3M660.9 212.6L664.9 212.6M671.8 219.5L677.7 219.5M660.9 233.3L667.8 233.3M671.8 233.3L677.7 233.3M684.6 219.5L684.6 233.3M685.6 219.5L685.6 233.3M685.6 222.4L687.5 220.5 690.5 219.5 692.5 219.5 695.4 220.5 696.4 222.4 696.4 233.3M692.5 219.5L694.4 220.5 695.4 222.4 695.4 233.3M696.4 222.4L698.4 220.5 701.3 219.5 703.3 219.5 706.2 220.5 707.2 222.4 707.2 233.3M703.3 219.5L705.3 220.5 706.2 222.4 706.2 233.3M681.6 219.5L685.6 219.5M681.6 233.3L688.5 233.3M692.5 233.3L699.4 233.3M703.3 233.3L710.2 233.3M721 219.5L718.1 220.5 716.1 222.4 715.1 225.4 715.1 227.4 716.1 230.3 718.1 232.3 721 233.3 723 233.3 726 232.3 727.9 230.3 728.9 227.4 728.9 225.4 727.9 222.4 726 220.5 723 219.5 721 219.5M721 219.5L719.1 220.5 717.1 222.4 716.1 225.4 716.1 227.4 717.1 230.3 719.1 232.3 721 233.3M723 233.3L725 232.3 726.9 230.3 727.9 227.4 727.9 225.4 726.9 222.4 725 220.5 723 219.5M736.8 219.5L736.8 233.3M737.8 219.5L737.8 233.3M737.8 225.4L738.8 222.4 740.7 220.5 742.7 219.5 745.7 219.5 746.6 220.5 746.6 221.4 745.7 222.4 744.7 221.4 745.7 220.5M733.8 219.5L737.8 219.5M733.8 233.3L740.7 233.3" fill="none" stroke="#9932cc" stroke-width="2.2" stroke-linecap="butt" stroke-linejoin="round"/><path d="M500.8 91.25H602.0" stroke="#228b22" stroke-width="2.2" stroke-dasharray="28.5 8.4" fill="none"/><path d="M500.8 138.4H602.0" stroke="#2858a3" stroke-width="2.2" stroke-dasharray="2.2 4.21" fill="none"/><path d="M500.8 185.9H602.0" stroke="#ff0000" stroke-width="2.2" fill="none"/><path d="M500.8 233.3H602.0" stroke="#9932cc" stroke-width="2.2" stroke-dasharray="2.2 4.3 11.4 4.2" fill="none"/><path d="M578.4 408.2L576 408.2 573.6 407.1 571.3 404.8 567.7 400.2 566.5 399.1 564.2 397.9 561.8 397.9 559.4 399.1 558.2 401.4 558.2 403.6 559.4 405.9 561.8 407.1 564.2 407.1 566.5 405.9 567.7 404.8 571.3 400.2 573.6 397.9 576 396.8 578.4 396.8M589 396.8L589 412.9M590.2 396.8L590.2 412.9M590.2 403.6L591.4 400.2 593.8 397.9 596.1 396.8 599.7 396.8 600.9 397.9 600.9 399.1 599.7 400.2 598.5 399.1 599.7 397.9M585.5 396.8L590.2 396.8M585.5 412.9L593.8 412.9M606.3 396.2L619.9 396.2M624.8 389.9L625.6 390.7 624.8 391.5 624 390.7 624 389.9 624.8 388.3 625.6 387.5 627.8 386.7 630.9 386.7 633.1 387.5 633.9 389.1 633.9 391.5 633.1 393.1 630.9 393.9 628.6 393.9M630.9 386.7L632.4 387.5 633.1 389.1 633.1 391.5 632.4 393.1 630.9 393.9M630.9 393.9L632.4 394.6 633.9 396.2 634.7 397.8 634.7 400.2 633.9 401.8 633.1 402.6 630.9 403.4 627.8 403.4 625.6 402.6 624.8 401.8 624 400.2 624 399.4 624.8 398.6 625.6 399.4 624.8 400.2M633.1 395.4L633.9 397.8 633.9 400.2 633.1 401.8 632.4 402.6 630.9 403.4" fill="none" stroke="#000" stroke-width="2.2" stroke-linecap="butt" stroke-linejoin="round"/></svg></body></html>
